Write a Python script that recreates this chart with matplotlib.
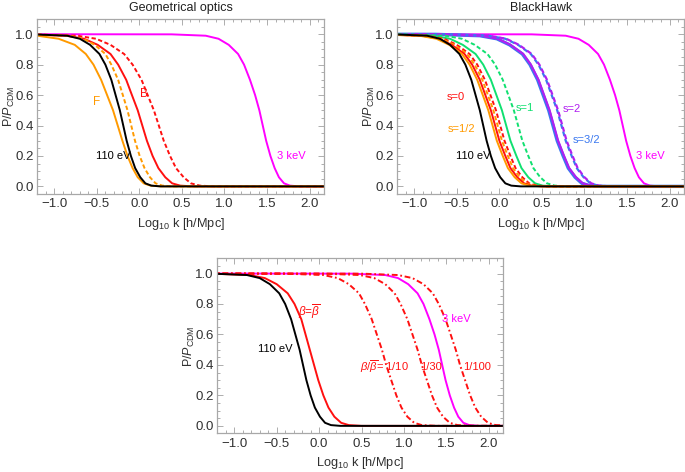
import numpy as np
import matplotlib.pyplot as plt
from matplotlib.ticker import MultipleLocator

plt.rcParams['font.family'] = ['Liberation Sans', 'DejaVu Sans']
plt.rcParams['mathtext.fontset'] = 'custom'
plt.rcParams['mathtext.rm'] = 'Liberation Sans'
plt.rcParams['mathtext.it'] = 'Liberation Sans:italic'

# ---- data: x (log10 k) where each curve crosses these P/P_CDM levels ----
lev = [0.999, 0.99, 0.97, 0.93, 0.87, 0.8, 0.7, 0.6, 0.5, 0.4, 0.3, 0.2, 0.12, 0.06, 0.02, 0.005, 0.0]

wdm_110 = [-1.25, -0.85, -0.70, -0.58, -0.47, -0.40, -0.33, -0.28, -0.23, -0.19, -0.15, -0.10, -0.05, 0.01, 0.07, 0.14, 0.25]
wdm_3k = [0.38, 0.78, 0.93, 1.05, 1.16, 1.23, 1.30, 1.36, 1.41, 1.45, 1.49, 1.54, 1.59, 1.64, 1.70, 1.77, 1.88]

# geometrical optics
go_F = [-1.60, -1.20, -0.95, -0.76, -0.63, -0.54, -0.45, -0.38, -0.31, -0.255, -0.20, -0.14, -0.08, -0.02, 0.05, 0.13, 0.25]
go_F_d = [-1.26, -0.82, -0.66, -0.525, -0.40, -0.33, -0.25, -0.195, -0.14, -0.096, -0.052, 0.003, 0.06, 0.124, 0.19, 0.27, 0.39]
go_B = [-1.40, -0.86, -0.65, -0.49, -0.34, -0.25, -0.155, -0.088, -0.02, 0.034, 0.088, 0.155, 0.223, 0.304, 0.385, 0.48, 0.63]
go_B_d = [-1.31, -0.73, -0.51, -0.34, -0.18, -0.08, 0.025, 0.097, 0.17, 0.228, 0.286, 0.36, 0.43, 0.52, 0.605, 0.71, 0.87]

# BlackHawk, spin s
bh_s12 = [-1.46, -0.94, -0.74, -0.59, -0.44, -0.35, -0.26, -0.195, -0.13, -0.08, -0.03, 0.04, 0.10, 0.18, 0.26, 0.35, 0.49]
bh_s0 = [-1.43, -0.91, -0.71, -0.56, -0.41, -0.32, -0.23, -0.165, -0.10, -0.05, 0.00, 0.07, 0.13, 0.21, 0.29, 0.38, 0.52]
bh_s12_d = [-1.40, -0.88, -0.68, -0.53, -0.38, -0.29, -0.20, -0.135, -0.07, -0.02, 0.03, 0.10, 0.16, 0.24, 0.32, 0.41, 0.55]
bh_s0_d = [-1.37, -0.85, -0.65, -0.50, -0.35, -0.26, -0.17, -0.105, -0.04, 0.01, 0.06, 0.13, 0.19, 0.27, 0.35, 0.44, 0.58]
bh_s1 = [-1.30, -0.78, -0.58, -0.43, -0.28, -0.19, -0.10, -0.035, 0.03, 0.08, 0.13, 0.20, 0.26, 0.34, 0.42, 0.51, 0.65]
bh_s1_d = [-1.16, -0.64, -0.44, -0.29, -0.14, -0.05, 0.04, 0.105, 0.17, 0.22, 0.27, 0.34, 0.40, 0.48, 0.56, 0.65, 0.79]
bh_s32 = [-0.75, -0.23, -0.03, 0.12, 0.27, 0.36, 0.45, 0.515, 0.58, 0.63, 0.68, 0.75, 0.81, 0.89, 0.97, 1.06, 1.20]
bh_s2 = [-0.74, -0.22, -0.02, 0.13, 0.28, 0.37, 0.46, 0.525, 0.59, 0.64, 0.69, 0.76, 0.82, 0.90, 0.98, 1.07, 1.21]
bh_s32_d = [-0.65, -0.13, 0.07, 0.22, 0.37, 0.46, 0.55, 0.615, 0.68, 0.73, 0.78, 0.85, 0.91, 0.99, 1.07, 1.16, 1.30]
bh_s2_d = [-0.64, -0.12, 0.08, 0.23, 0.38, 0.47, 0.56, 0.625, 0.69, 0.74, 0.79, 0.86, 0.92, 1.00, 1.08, 1.17, 1.31]

# beta / beta_bar
b_1 = [-1.25, -0.82, -0.64, -0.50, -0.37, -0.29, -0.21, -0.16, -0.11, -0.06, -0.01, 0.05, 0.11, 0.18, 0.26, 0.35, 0.50]
b_10 = [-0.40, 0.05, 0.22, 0.35, 0.47, 0.54, 0.62, 0.68, 0.74, 0.79, 0.85, 0.91, 0.97, 1.04, 1.12, 1.21, 1.38]
b_30 = [0.05, 0.48, 0.65, 0.78, 0.89, 0.96, 1.04, 1.10, 1.16, 1.21, 1.27, 1.33, 1.39, 1.46, 1.54, 1.63, 1.80]
b_100 = [0.51, 0.93, 1.10, 1.23, 1.34, 1.41, 1.49, 1.55, 1.61, 1.66, 1.72, 1.78, 1.84, 1.91, 1.99, 2.08, 2.26]

ORANGE = '#ff9a00'
RED = '#ff1010'
MAGENTA = '#ff00ff'
GREEN = '#10e070'
BLUE = '#3a78f0'
PURPLE = '#b020f0'

dash = (0, (2.2, 1.3))
dashdot = (0, (3.0, 1.4, 0.9, 1.4))


def curve(ax, xs, **kw):
    kw.setdefault('lw', 1.4)
    ax.plot([-1.6] + xs + [2.6], [1.0] + lev + [0.0], **kw)


def style(ax):
    ax.set_xlim(-1.2, 2.17)
    ax.set_ylim(-0.05, 1.1)
    ax.xaxis.set_major_locator(MultipleLocator(0.5))
    ax.xaxis.set_minor_locator(MultipleLocator(0.1))
    ax.yaxis.set_major_locator(MultipleLocator(0.2))
    ax.yaxis.set_minor_locator(MultipleLocator(0.05))
    ax.xaxis.set_major_formatter(plt.FuncFormatter(lambda v, p: f'{v:.1f}'.replace('-', '\u2212')))
    ax.yaxis.set_major_formatter(plt.FuncFormatter(lambda v, p: f'{v:.1f}'))
    ax.tick_params(which='both', direction='in', top=True, right=True,
                   color='#a0a0a0', labelcolor='#303030', labelsize=9.5, width=0.6)
    ax.tick_params(which='major', length=4, pad=3)
    ax.tick_params(axis='y', which='major', pad=2.5)
    ax.tick_params(which='minor', length=2)
    for s in ax.spines.values():
        s.set_color('#a8a8a8')
        s.set_linewidth(0.9)
    ax.set_xlabel(r'Log$_{10}$ k [h/Mpc]', fontsize=9.2, color='#303030', labelpad=4)
    ax.set_ylabel(r'P/$P_{\mathrm{CDM}}$', fontsize=9, color='#303030')
    ax.yaxis.set_label_coords(-0.072, 0.5)


fig = plt.figure(figsize=(6.85, 4.72), dpi=100)
ax1 = fig.add_axes([0.0545, 0.589, 0.4185, 0.3708])
ax2 = fig.add_axes([0.580, 0.589, 0.4185, 0.3708])
ax3 = fig.add_axes([0.3172, 0.0816, 0.4175, 0.3712])

# ---- Geometrical optics ----
curve(ax1, wdm_3k, color=MAGENTA)
curve(ax1, go_B_d, color=RED, ls=dash)
curve(ax1, go_B, color=RED)
curve(ax1, go_F_d, color=ORANGE, ls=dash)
curve(ax1, go_F, color=ORANGE)
curve(ax1, wdm_110, color='black')
ax1.text(-0.50, 0.557, 'F', color=ORANGE, fontsize=8.5, ha='center', va='center')
ax1.text(0.054, 0.605, 'B', color=RED, fontsize=8.5, ha='center', va='center')
ax1.text(-0.31, 0.20, '110 eV', color='black', fontsize=8, ha='center', va='center')
ax1.text(1.79, 0.20, '3 keV', color=MAGENTA, fontsize=8, ha='center', va='center')
ax1.set_title('Geometrical optics', fontsize=9, color='#202020', pad=6)

# ---- BlackHawk ----
curve(ax2, wdm_3k, color=MAGENTA)
curve(ax2, bh_s32, color=BLUE, lw=2.4)
curve(ax2, bh_s2, color=PURPLE, lw=1.6)
curve(ax2, bh_s32_d, color=BLUE, lw=1.6, ls=dash)
curve(ax2, bh_s2_d, color=PURPLE, lw=1.6, ls=(1.7, (2.2, 1.3)))
curve(ax2, bh_s1_d, color=GREEN, ls=dash)
curve(ax2, bh_s1, color=GREEN)
curve(ax2, bh_s0_d, color=RED, ls=dash)
curve(ax2, bh_s12_d, color=ORANGE, ls=dash)
curve(ax2, bh_s0, color=RED)
curve(ax2, bh_s12, color=ORANGE)
curve(ax2, wdm_110, color='black')
ax2.text(-0.51, 0.59, 's=0', color=RED, fontsize=8, ha='center', va='center')
ax2.text(-0.44, 0.38, 's=1/2', color=ORANGE, fontsize=8, ha='center', va='center')
ax2.text(-0.31, 0.20, '110 eV', color='black', fontsize=8, ha='center', va='center')
ax2.text(0.30, 0.513, 's=1', color=GREEN, fontsize=8, ha='center', va='center')
ax2.text(0.85, 0.507, 's=2', color=PURPLE, fontsize=8, ha='center', va='center')
ax2.text(1.03, 0.306, 's=3/2', color=BLUE, fontsize=8, ha='center', va='center')
ax2.text(1.77, 0.20, '3 keV', color=MAGENTA, fontsize=8, ha='center', va='center')
ax2.set_title('BlackHawk', fontsize=9, color='#202020', pad=6)

# ---- beta ----
curve(ax3, wdm_3k, color=MAGENTA)
curve(ax3, b_100, color=RED, ls=dashdot)
curve(ax3, b_30, color=RED, ls=dashdot)
curve(ax3, b_10, color=RED, ls=dashdot)
curve(ax3, b_1, color=RED)
curve(ax3, wdm_110, color='black')
ax3.text(-0.12, 0.749, r'$\beta$=$\overline{\beta}$', color=RED, fontsize=8.5, ha='center', va='center')
ax3.text(-0.52, 0.504, '110 eV', color='black', fontsize=8, ha='center', va='center')
ax3.text(1.62, 0.70, '3 keV', color=MAGENTA, fontsize=8, ha='center', va='center')
ax3.text(0.77, 0.388, r'$\beta/\overline{\beta}$= 1/10', color=RED, fontsize=8, ha='center', va='center')
ax3.text(1.32, 0.388, '1/30', color=RED, fontsize=8, ha='center', va='center')
ax3.text(1.855, 0.388, '1/100', color=RED, fontsize=8, ha='center', va='center')

for ax in (ax1, ax2, ax3):
    style(ax)

fig.savefig('out.png', dpi=100)
